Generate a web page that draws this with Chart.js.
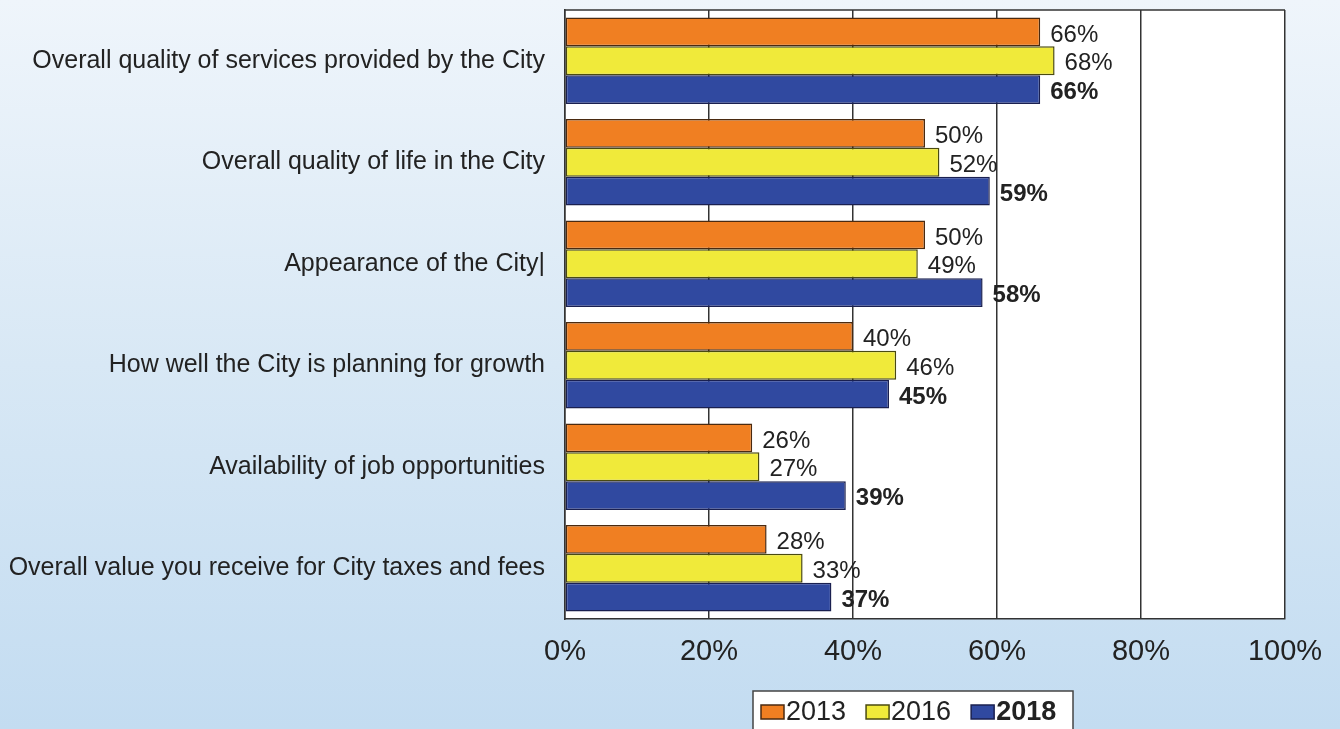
<!DOCTYPE html>
<html>
<head>
<meta charset="utf-8">
<script src="https://cdn.jsdelivr.net/npm/chart.js@4"></script>
<style>
  html, body { margin: 0; padding: 0; }
  body { width: 1340px; height: 729px; overflow: hidden;
         background: linear-gradient(to bottom, #eff5fb 0%, #d8e8f5 50%, #c3dcf1 100%); }
  #wrap { position: relative; width: 1340px; height: 729px; }
</style>
</head>
<body>
<div id="wrap"><canvas id="chart"></canvas></div>
<script>
// satisfaction ratings, share of residents rating "good" or better
const categories = [
  'Overall quality of services provided by the City',
  'Overall quality of life in the City',
  'Appearance of the City|',
  'How well the City is planning for growth',
  'Availability of job opportunities',
  'Overall value you receive for City taxes and fees'
];
const years = ['2013', '2016', '2018'];
const values2013 = [66, 50, 50, 40, 26, 28];
const values2016 = [68, 52, 49, 46, 27, 33];
const values2018 = [66, 59, 58, 45, 39, 37];
const xTicks = [0, 20, 40, 60, 80, 100];

const fills = ['#f07f22', '#f0ea3a', '#3049a0'];
const edges = ['#4a2a10', '#4a4a10', '#1a2050'];
const FONT = '"Liberation Sans", Arial, sans-serif';

const plotBg = {
  id: 'plotBg',
  beforeDraw(chart) {
    const { ctx, chartArea: a } = chart;
    ctx.save();
    ctx.fillStyle = '#ffffff';
    ctx.fillRect(a.left, a.top, a.width, a.height);
    ctx.restore();
  },
  afterDraw(chart) {
    const { ctx, chartArea: a } = chart;
    ctx.save();
    ctx.strokeStyle = '#333';
    ctx.lineWidth = 1.5;
    ctx.beginPath();
    ctx.moveTo(a.left, a.top);
    ctx.lineTo(a.right, a.top);
    ctx.stroke();
    ctx.restore();
  }
};

const valueLabels = {
  id: 'valueLabels',
  afterDatasetsDraw(chart) {
    const { ctx } = chart;
    ctx.save();
    ctx.fillStyle = '#222';
    ctx.textBaseline = 'middle';
    chart.data.datasets.forEach((ds, i) => {
      ctx.font = (i === 2 ? 'bold ' : '') + '24px ' + FONT;
      chart.getDatasetMeta(i).data.forEach((bar, j) => {
        ctx.fillText(ds.data[j] + '%', bar.x + 10, bar.y + 3);
      });
    });
    ctx.restore();
  }
};

const boxLegend = {
  id: 'boxLegend',
  afterDraw(chart) {
    const { ctx } = chart;
    const top = 691, left = 753, right = 1073;
    ctx.save();
    ctx.fillStyle = '#ffffff';
    ctx.strokeStyle = '#444';
    ctx.lineWidth = 1.5;
    ctx.fillRect(left, top, right - left, 50);
    ctx.strokeRect(left, top, right - left, 50);
    let x = left + 8;
    const cy = 712;
    ctx.textBaseline = 'middle';
    chart.data.datasets.forEach((ds, i) => {
      ctx.fillStyle = fills[i];
      ctx.fillRect(x, cy - 7, 23, 14);
      ctx.strokeStyle = edges[i];
      ctx.lineWidth = 1.5;
      ctx.strokeRect(x, cy - 7, 23, 14);
      x += 25;
      ctx.fillStyle = '#222';
      ctx.font = (i === 2 ? 'bold ' : '') + '27px ' + FONT;
      ctx.fillText(ds.label, x, cy + 1);
      x += ctx.measureText(ds.label).width + 20;
    });
    ctx.restore();
  }
};

const seriesValues = [values2013, values2016, values2018];

new Chart(document.getElementById('chart'), {
  type: 'bar',
  data: {
    labels: categories,
    datasets: years.map((y, i) => ({
      label: y,
      data: seriesValues[i],
      backgroundColor: fills[i],
      borderColor: edges[i],
      borderWidth: 1.5,
      borderSkipped: false,
      categoryPercentage: 0.85,
      barPercentage: 1.0
    }))
  },
  options: {
    indexAxis: 'y',
    responsive: true,
    maintainAspectRatio: false,
    animation: false,
    layout: { padding: { top: 10, right: 55, left: 0, bottom: 0 } },
    scales: {
      x: {
        min: 0, max: 100,
        afterBuildTicks: s => { s.ticks = xTicks.map(v => ({ value: v })); },
        afterFit: s => { s.height = 110; s.paddingLeft = 0; s.paddingRight = 0; },
        ticks: { callback: v => v + '%', color: '#222', padding: 16,
                 font: { family: FONT, size: 29 } },
        grid: { color: '#333', lineWidth: 1.5, drawTicks: false },
        border: { color: '#333', width: 1.5 }
      },
      y: {
        afterFit: s => { s.width = 565; s.paddingTop = 0; s.paddingBottom = 0; },
        ticks: { color: '#222', padding: 12, font: { family: FONT, size: 25 } },
        grid: { display: false },
        border: { color: '#333', width: 1.5 }
      }
    },
    plugins: { legend: { display: false }, tooltip: { enabled: false } }
  },
  plugins: [plotBg, valueLabels, boxLegend]
});
</script>
</body>
</html>
